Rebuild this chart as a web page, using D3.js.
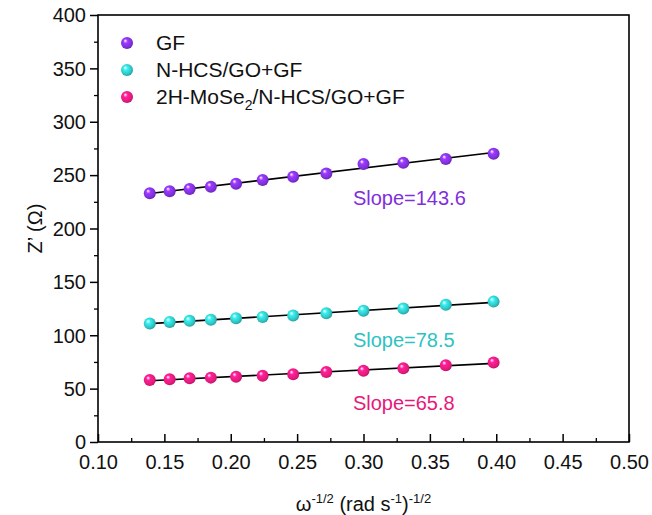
<!DOCTYPE html>
<html>
<head>
<meta charset="utf-8">
<script src="https://cdn.jsdelivr.net/npm/d3@7"></script>
<style>
  body { margin: 0; background: #fff; }
  text { font-family: "Liberation Sans", Arial, sans-serif; }
</style>
</head>
<body>
<div id="chart"></div>
<script>
var svgWidth = 652;
var svgHeight = 515;

var margin = { top: 15, right: 23, bottom: 73, left: 98 };
var width = svgWidth - margin.left - margin.right;
var height = svgHeight - margin.top - margin.bottom;

// Data.
var xValues = [0.139, 0.154, 0.169, 0.185, 0.204, 0.224, 0.247, 0.272, 0.300, 0.330, 0.362, 0.398];
var gfValues = [233, 235, 237, 239, 242, 245.5, 248.5, 251.5, 260.5, 261.5, 265, 270];
var nhcsValues = [111, 112.5, 113.5, 114.5, 116, 117, 118.5, 120.5, 123, 125, 128.5, 131.5];
var mose2Values = [58, 58.7, 59.7, 60.3, 61.2, 62.1, 63.4, 65.5, 66.7, 69, 72, 74.5];
var seriesNames = ["GF", "N-HCS/GO+GF", "2H-MoSe2/N-HCS/GO+GF"];
var seriesColors = ["#7f2fdc", "#2ec2c2", "#e5197c"];
var slopeLabels = ["Slope=143.6", "Slope=78.5", "Slope=65.8"];
var xTicks = [0.10, 0.15, 0.20, 0.25, 0.30, 0.35, 0.40, 0.45, 0.50];
var yTicks = [0, 50, 100, 150, 200, 250, 300, 350, 400];

var allSeries = [gfValues, nhcsValues, mose2Values];

var svg = d3.select("#chart")
    .append("svg")
    .attr("width", svgWidth)
    .attr("height", svgHeight);

var defs = svg.append("defs");
seriesColors.forEach(function(c, i) {
    var g = defs.append("radialGradient")
        .attr("id", "ball" + i)
        .attr("cx", "45%").attr("cy", "45%").attr("r", "60%")
        .attr("fx", "35%").attr("fy", "30%");
    g.append("stop").attr("offset", "0%").attr("stop-color", "#ffffff");
    g.append("stop").attr("offset", "30%").attr("stop-color", d3.color(c).brighter(0.6));
    g.append("stop").attr("offset", "75%").attr("stop-color", c);
    g.append("stop").attr("offset", "100%").attr("stop-color", d3.color(c).darker(0.8));
});

var chartGroup = svg.append("g")
    .attr("transform", `translate(${margin.left}, ${margin.top})`);

var xScale = d3.scaleLinear().domain([0.10, 0.50]).range([0, width]);
var yScale = d3.scaleLinear().domain([0, 400]).range([height, 0]);

// Minor ticks
var xMinor = d3.range(0.125, 0.5, 0.05);
var yMinor = d3.range(25, 400, 50);

chartGroup.append("g")
    .attr("transform", `translate(0, ${height})`)
    .call(d3.axisBottom(xScale).tickValues(xMinor).tickSize(-4).tickFormat(""))
    .call(g => g.select(".domain").remove())
    .selectAll("line").attr("stroke-width", 1.3);

chartGroup.append("g")
    .call(d3.axisLeft(yScale).tickValues(yMinor).tickSize(4).tickFormat(""))
    .call(g => g.select(".domain").remove())
    .selectAll("line").attr("stroke-width", 1.3);

// Major axes
var xAxis = chartGroup.append("g")
    .attr("transform", `translate(0, ${height})`)
    .call(d3.axisBottom(xScale).tickValues(xTicks).tickSize(-8).tickPadding(13)
        .tickFormat(d3.format(".2f")));
xAxis.select(".domain").remove();
xAxis.selectAll("line").attr("stroke-width", 1.5);
xAxis.selectAll("text").style("font-size", "20px").attr("fill", "#111");

var yAxis = chartGroup.append("g")
    .call(d3.axisLeft(yScale).tickValues(yTicks).tickSize(8).tickPadding(4));
yAxis.select(".domain").remove();
yAxis.selectAll("line").attr("stroke-width", 1.5);
yAxis.selectAll("text").style("font-size", "20px").attr("fill", "#111").attr("dy", "0.34em");

// Frame
chartGroup.append("rect")
    .attr("width", width)
    .attr("height", height)
    .attr("fill", "none")
    .attr("stroke", "#000")
    .attr("stroke-width", 1.6);

// Axis titles
var xTitle = chartGroup.append("text")
    .attr("x", width / 2)
    .attr("y", height + 69)
    .attr("text-anchor", "middle")
    .style("font-size", "20px")
    .attr("fill", "#111");
xTitle.append("tspan").text("ω");
xTitle.append("tspan").attr("dy", -8).style("font-size", "13px").text("-1/2");
xTitle.append("tspan").attr("dy", 8).text(" (rad s");
xTitle.append("tspan").attr("dy", -8).style("font-size", "13px").text("-1");
xTitle.append("tspan").attr("dy", 8).text(")");
xTitle.append("tspan").attr("dy", -8).style("font-size", "13px").text("-1/2");

chartGroup.append("text")
    .attr("transform", `translate(${-56}, ${height / 2}) rotate(-90)`)
    .attr("text-anchor", "middle")
    .style("font-size", "20px")
    .attr("fill", "#111")
    .text("Z’ (Ω)");

// Fit lines (least squares) and points
allSeries.forEach(function(vals, i) {
    var mx = d3.mean(xValues), my = d3.mean(vals);
    var sxy = d3.sum(xValues, (x, k) => (x - mx) * (vals[k] - my));
    var sxx = d3.sum(xValues, x => (x - mx) * (x - mx));
    var b = sxy / sxx, a = my - b * mx;
    var x0 = xValues[0], x1 = xValues[xValues.length - 1];

    chartGroup.append("line")
        .attr("x1", xScale(x0)).attr("y1", yScale(a + b * x0))
        .attr("x2", xScale(x1)).attr("y2", yScale(a + b * x1))
        .attr("stroke", "#000")
        .attr("stroke-width", 1.6);

    chartGroup.selectAll(".pt" + i)
        .data(xValues)
        .enter()
        .append("circle")
        .attr("cx", d => xScale(d))
        .attr("cy", (d, k) => yScale(vals[k]))
        .attr("r", 6)
        .attr("fill", "url(#ball" + i + ")");
});

// Slope labels
var slopePos = [[0.292, 222], [0.292, 89], [0.292, 30]];
slopeLabels.forEach(function(s, i) {
    chartGroup.append("text")
        .attr("x", xScale(slopePos[i][0]))
        .attr("y", yScale(slopePos[i][1]))
        .style("font-size", "20px")
        .attr("fill", seriesColors[i])
        .text(s);
});

// Legend
var legend = chartGroup.append("g").attr("transform", "translate(29, 28)");
seriesNames.forEach(function(name, i) {
    var row = legend.append("g").attr("transform", `translate(0, ${i * 27})`);
    row.append("circle").attr("r", 6).attr("fill", "url(#ball" + i + ")");
    var t = row.append("text")
        .attr("x", 29)
        .attr("dy", "0.35em")
        .style("font-size", "21px")
        .attr("fill", "#111");
    if (name.indexOf("MoSe2") >= 0) {
        t.append("tspan").text("2H-MoSe");
        t.append("tspan").attr("dy", 6).style("font-size", "14px").text("2");
        t.append("tspan").attr("dy", -6).text("/N-HCS/GO+GF");
    } else {
        t.text(name);
    }
});
</script>
</body>
</html>
